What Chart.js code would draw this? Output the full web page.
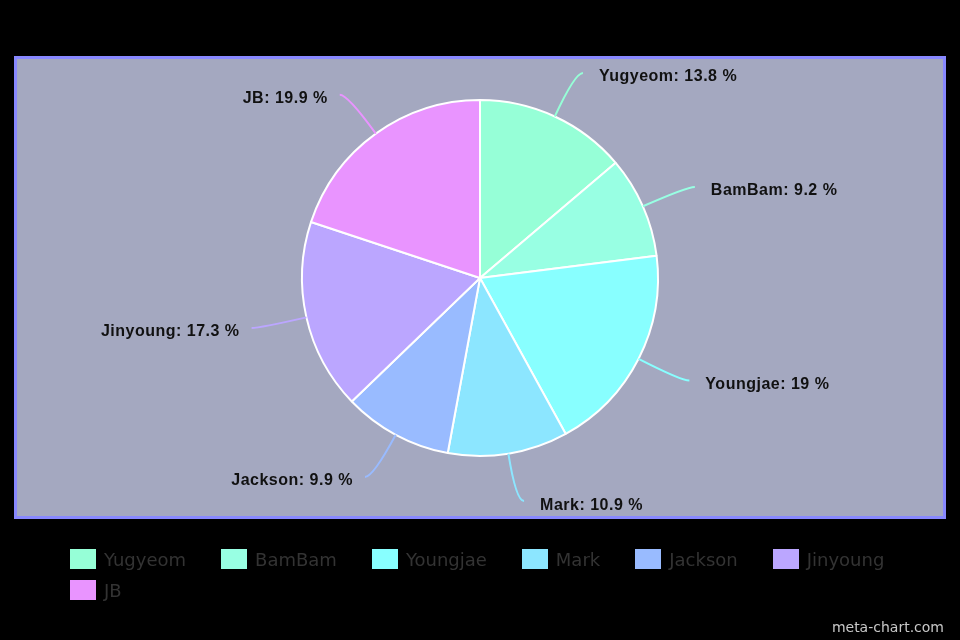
<!DOCTYPE html>
<html>
<head>
<meta charset="utf-8">
<script src="https://cdn.jsdelivr.net/npm/chart.js@4.4.1/dist/chart.umd.min.js"></script>
<style>
  html, body { margin: 0; padding: 0; background: #000; }
  #wrap { position: relative; width: 960px; height: 640px; }
  #legend {
    position: absolute; left: 70px; top: 549px; width: 890px;
    display: flex; flex-wrap: wrap; row-gap: 11px;
    font-family: "DejaVu Sans", sans-serif; font-size: 18px; color: #333;
  }
  .item { display: flex; align-items: center; height: 20px; margin-right: 35px; }
  .box { width: 26px; height: 20px; margin-right: 8px; }
  #credit {
    position: absolute; right: 16px; top: 619px;
    font-family: "DejaVu Sans", sans-serif; font-size: 14px; color: #c8c8c8;
  }
</style>
</head>
<body>
<div id="wrap">
  <canvas id="pie" width="960" height="640"></canvas>
  <div id="legend"></div>
  <div id="credit">meta-chart.com</div>
</div>
<script>
const labels = ['Yugyeom', 'BamBam', 'Youngjae', 'Mark', 'Jackson', 'Jinyoung', 'JB'];
const shares = [13.8, 9.2, 19, 10.9, 9.9, 17.3, 19.9];
const colors = ['#96ffd7', '#98ffe3', '#88ffff', '#8ce6ff', '#99bbff', '#bba6ff', '#e994ff'];

// gray panel with blue frame behind the pie
const panel = {
    id: 'panel',
    beforeDraw(chart) {
        const ctx = chart.ctx;
        ctx.save();
        ctx.fillStyle = '#000';
        ctx.fillRect(0, 0, chart.width, chart.height);
        ctx.fillStyle = '#a4a8c0';
        ctx.fillRect(14, 56, 932, 463);
        ctx.strokeStyle = '#8888ff';
        ctx.lineWidth = 3;
        ctx.strokeRect(15.5, 57.5, 929, 460);
        ctx.restore();
    },
};

// outside labels with curved leader lines
const outLabels = {
    id: 'outLabels',
    afterDatasetsDraw(chart) {
        const ctx = chart.ctx;
        const meta = chart.getDatasetMeta(0);
        ctx.save();
        ctx.font = 'bold 16px "Liberation Sans", Arial, sans-serif';
        if ('letterSpacing' in ctx) ctx.letterSpacing = '0.5px';
        ctx.textBaseline = 'middle';
        meta.data.forEach((arc, i) => {
            const { x, y, startAngle, endAngle, outerRadius } = arc.getProps(['x', 'y', 'startAngle', 'endAngle', 'outerRadius'], true);
            const mid = (startAngle + endAngle) / 2;
            const cos = Math.cos(mid), sin = Math.sin(mid);
            const side = cos >= 0 ? 1 : -1;
            const sx = x + outerRadius * cos, sy = y + outerRadius * sin;
            const cx = x + (outerRadius + 48) * cos, cy = y + (outerRadius + 48) * sin;
            const ex = cx + side * 8, ey = cy;
            ctx.strokeStyle = colors[i];
            ctx.lineWidth = 2;
            ctx.beginPath();
            ctx.moveTo(sx, sy);
            ctx.quadraticCurveTo(cx, cy, ex, ey);
            ctx.stroke();
            ctx.fillStyle = '#111';
            ctx.textAlign = side > 0 ? 'left' : 'right';
            ctx.fillText(`${labels[i]}: ${shares[i]} %`, ex + side * (side > 0 ? 16 : 12), ey + 4);
        });
        ctx.restore();
    },
};

new Chart(document.getElementById('pie'), {
    type: 'pie',
    data: {
        labels,
        datasets: [{
            data: shares,
            backgroundColor: colors,
            borderColor: '#fff',
            borderWidth: 2,
        }],
    },
    options: {
        responsive: false,
        animation: false,
        radius: 178,
        layout: { padding: { top: 100, bottom: 184, left: 0, right: 0 } },
        plugins: {
            legend: { display: false },
            tooltip: { enabled: false },
        },
    },
    plugins: [panel, outLabels],
});

// html legend
const legend = document.getElementById('legend');
labels.forEach((name, i) => {
    const item = document.createElement('div');
    item.className = 'item';
    item.innerHTML = `<span class="box" style="background:${colors[i]}"></span><span>${name}</span>`;
    legend.appendChild(item);
});
</script>
</body>
</html>
